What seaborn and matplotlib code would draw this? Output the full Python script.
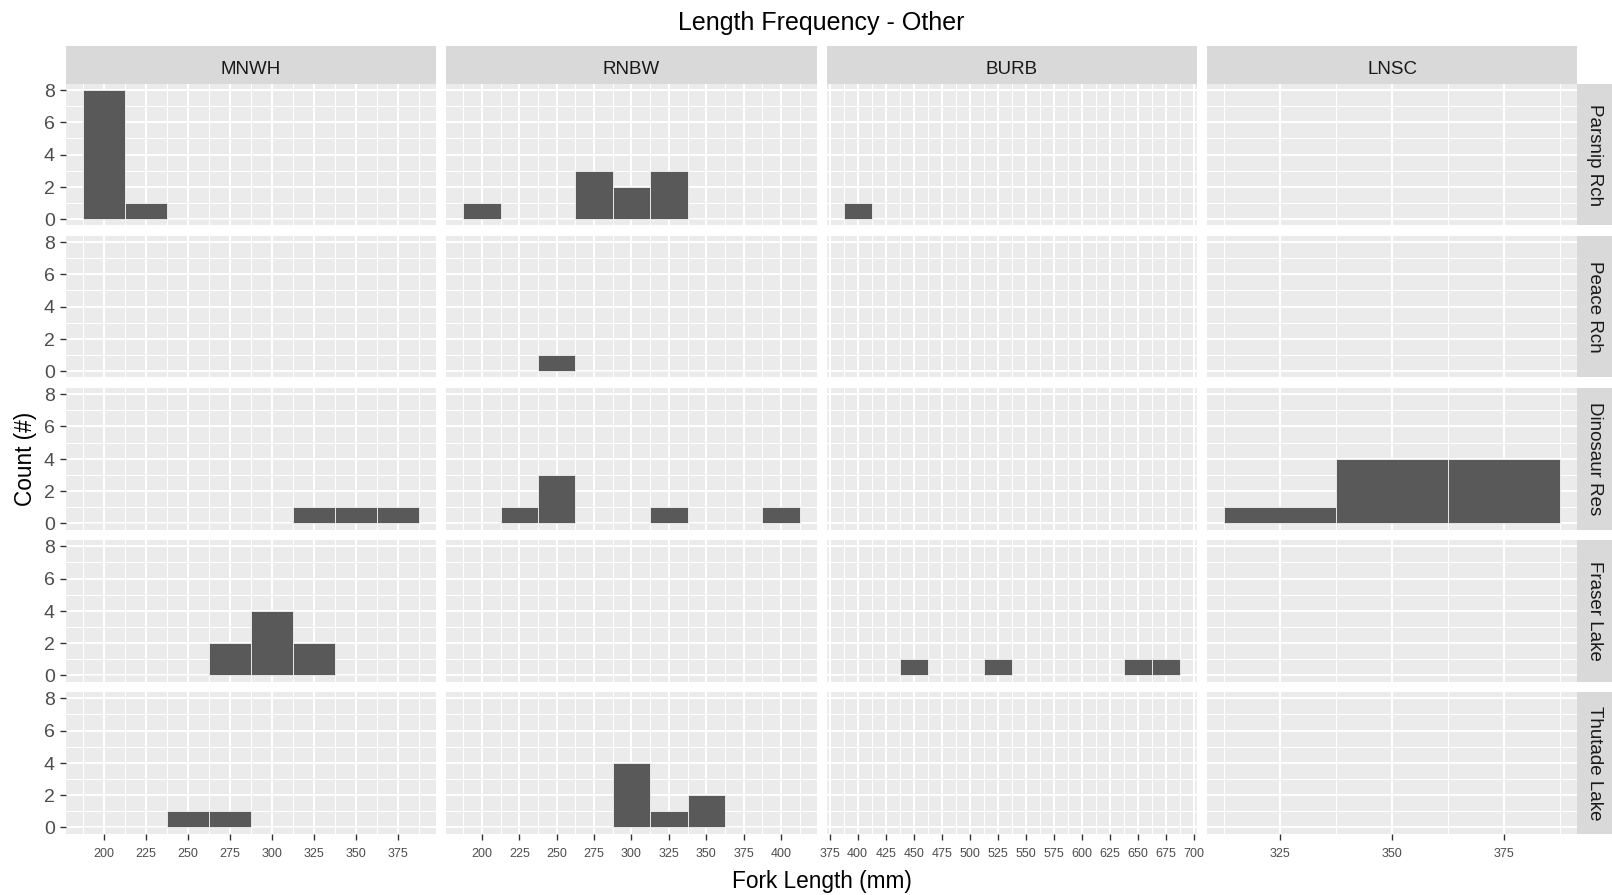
import numpy as np
import pandas as pd
import matplotlib
matplotlib.use("Agg")
import matplotlib.pyplot as plt
import seaborn as sns

# ---------------- data ----------------
species = ["MNWH", "RNBW", "BURB", "LNSC"]
waterbodies = ["Parsnip Rch", "Peace Rch", "Dinosaur Res", "Fraser Lake", "Thutade Lake"]

# bin centres (mm) and number of fish per panel (25 mm bins)
mnwh_parsnip_len = [200, 225]
mnwh_parsnip_n = [8, 1]
mnwh_dinosaur_len = [325, 350, 375]
mnwh_dinosaur_n = [1, 1, 1]
mnwh_fraser_len = [275, 300, 325]
mnwh_fraser_n = [2, 4, 2]
mnwh_thutade_len = [250, 275]
mnwh_thutade_n = [1, 1]

rnbw_parsnip_len = [200, 275, 300, 325]
rnbw_parsnip_n = [1, 3, 2, 3]
rnbw_peace_len = [250]
rnbw_peace_n = [1]
rnbw_dinosaur_len = [225, 250, 325, 400]
rnbw_dinosaur_n = [1, 3, 1, 1]
rnbw_thutade_len = [300, 325, 350]
rnbw_thutade_n = [4, 1, 2]

burb_parsnip_len = [400]
burb_parsnip_n = [1]
burb_fraser_len = [450, 525, 650, 675]
burb_fraser_n = [1, 1, 1, 1]

lnsc_dinosaur_len = [325, 350, 375]
lnsc_dinosaur_n = [1, 4, 4]

x_ticks_mnwh = [200, 225, 250, 275, 300, 325, 350, 375]
x_ticks_rnbw = [200, 225, 250, 275, 300, 325, 350, 375, 400]
x_ticks_burb = [375, 400, 425, 450, 475, 500, 525, 550, 575, 600, 625, 650, 675, 700]
x_ticks_lnsc = [325, 350, 375]
y_ticks = [0, 2, 4, 6, 8]
binwidth = 25

panels = [
    ("MNWH", "Parsnip Rch", mnwh_parsnip_len, mnwh_parsnip_n),
    ("MNWH", "Dinosaur Res", mnwh_dinosaur_len, mnwh_dinosaur_n),
    ("MNWH", "Fraser Lake", mnwh_fraser_len, mnwh_fraser_n),
    ("MNWH", "Thutade Lake", mnwh_thutade_len, mnwh_thutade_n),
    ("RNBW", "Parsnip Rch", rnbw_parsnip_len, rnbw_parsnip_n),
    ("RNBW", "Peace Rch", rnbw_peace_len, rnbw_peace_n),
    ("RNBW", "Dinosaur Res", rnbw_dinosaur_len, rnbw_dinosaur_n),
    ("RNBW", "Thutade Lake", rnbw_thutade_len, rnbw_thutade_n),
    ("BURB", "Parsnip Rch", burb_parsnip_len, burb_parsnip_n),
    ("BURB", "Fraser Lake", burb_fraser_len, burb_fraser_n),
    ("LNSC", "Dinosaur Res", lnsc_dinosaur_len, lnsc_dinosaur_n),
]
rows = []
for sp, wb, lens, ns in panels:
    for l, n in zip(lens, ns):
        rows.append({"species": sp, "waterbody": wb, "length": float(l), "n": float(n)})
df = pd.DataFrame(rows)

col_ticks = {"MNWH": x_ticks_mnwh, "RNBW": x_ticks_rnbw, "BURB": x_ticks_burb, "LNSC": x_ticks_lnsc}

# ---------------- style ----------------
FONT = ["Liberation Sans", "DejaVu Sans"]
plt.rcParams["font.family"] = FONT
W, H = 1612, 895
fig = plt.figure(figsize=(W / 100 + 0.004, H / 100 + 0.004), dpi=100)
fig.patch.set_facecolor("white")

PANEL_BG = "#ebebeb"
STRIP_BG = "#d9d9d9"
BAR = "#595959"

x0 = 66.0
panel_w = 370.0
gap = 10.3
y0 = 84.0
panel_h = 141.7
strip_h = 38.0
rstrip_w = 35.0


def px_axes(x, y, w, h, **kw):
    return fig.add_axes([x / W, 1 - (y + h) / H, w / W, h / H], **kw)


for ci, sp in enumerate(species):
    sub_sp = df[df["species"] == sp]
    lo = float(sub_sp["length"].min() - binwidth / 2)
    hi = float(sub_sp["length"].max() + binwidth / 2)
    pad = (hi - lo) * 0.05
    xlim = (lo - pad, hi + pad)
    majors = col_ticks[sp]
    minors = np.arange(majors[0] - binwidth / 2, xlim[1], binwidth)
    minors = minors[(minors > xlim[0]) & (minors < xlim[1])]
    xpos = x0 + ci * (panel_w + gap)

    # top strip
    sax = px_axes(xpos, y0 - strip_h, panel_w, strip_h, facecolor=STRIP_BG)
    sax.set_xticks([]); sax.set_yticks([])
    for s in sax.spines.values():
        s.set_visible(False)
    sax.text(0.5, 0.39, sp, ha="center", va="center", fontsize=13.5,
             color="#1a1a1a", transform=sax.transAxes)

    for ri, wb in enumerate(waterbodies):
        ypos = y0 + ri * (panel_h + gap)
        ax = px_axes(xpos, ypos, panel_w, panel_h, facecolor=PANEL_BG)
        sub = sub_sp[sub_sp["waterbody"] == wb]
        if len(sub):
            sns.histplot(data=sub, x="length", weights="n", binwidth=binwidth,
                         binrange=(lo, hi), ax=ax, color=BAR, alpha=1,
                         edgecolor="#f2f2f2", linewidth=0.6)
        ax.set_xlim(*xlim)
        ax.set_ylim(-0.4, 8.4)
        ax.set_xticks(majors)
        ax.set_xticks(minors, minor=True)
        ax.set_yticks(y_ticks)
        ax.set_yticks([1, 3, 5, 7], minor=True)
        ax.set_axisbelow(True)
        ax.grid(which="major", color="white", linewidth=1.5)
        ax.grid(which="minor", color="white", linewidth=0.75)
        for s in ax.spines.values():
            s.set_visible(False)
        ax.set_xlabel(""); ax.set_ylabel("")
        ax.tick_params(which="minor", length=0)
        ax.tick_params(axis="both", which="major", color="#333333", width=1.0, length=4)
        if ri == len(waterbodies) - 1:
            ax.tick_params(axis="x", labelsize=9, labelcolor="#4d4d4d", pad=6)
        else:
            ax.tick_params(axis="x", length=0, labelbottom=False)
        if ci == 0:
            ax.tick_params(axis="y", labelsize=14, labelcolor="#4d4d4d", pad=4)
        else:
            ax.tick_params(axis="y", length=0, labelleft=False)

        if ci == len(species) - 1:
            rax = px_axes(xpos + panel_w, ypos, rstrip_w, panel_h, facecolor=STRIP_BG)
            rax.set_xticks([]); rax.set_yticks([])
            for s in rax.spines.values():
                s.set_visible(False)
            rax.text(0.5, 0.5, wb, ha="center", va="center", rotation=-90,
                     fontsize=13.5, color="#1a1a1a", transform=rax.transAxes)

# titles
cx = (x0 + x0 + 4 * panel_w + 3 * gap) / 2
fig.text(cx / W, 1 - 29.5 / H, "Length Frequency - Other", ha="center", va="baseline",
         fontsize=18, color="black")
fig.text(cx / W, 1 - 888 / H, "Fork Length (mm)", ha="center", va="baseline",
         fontsize=16.3, color="black")
fig.text(25 / W, 1 - 458.5 / H, "Count (#)", ha="center", va="center", rotation=90,
         fontsize=16.3, color="black")

fig.savefig("out.png", dpi=100, facecolor="white")
